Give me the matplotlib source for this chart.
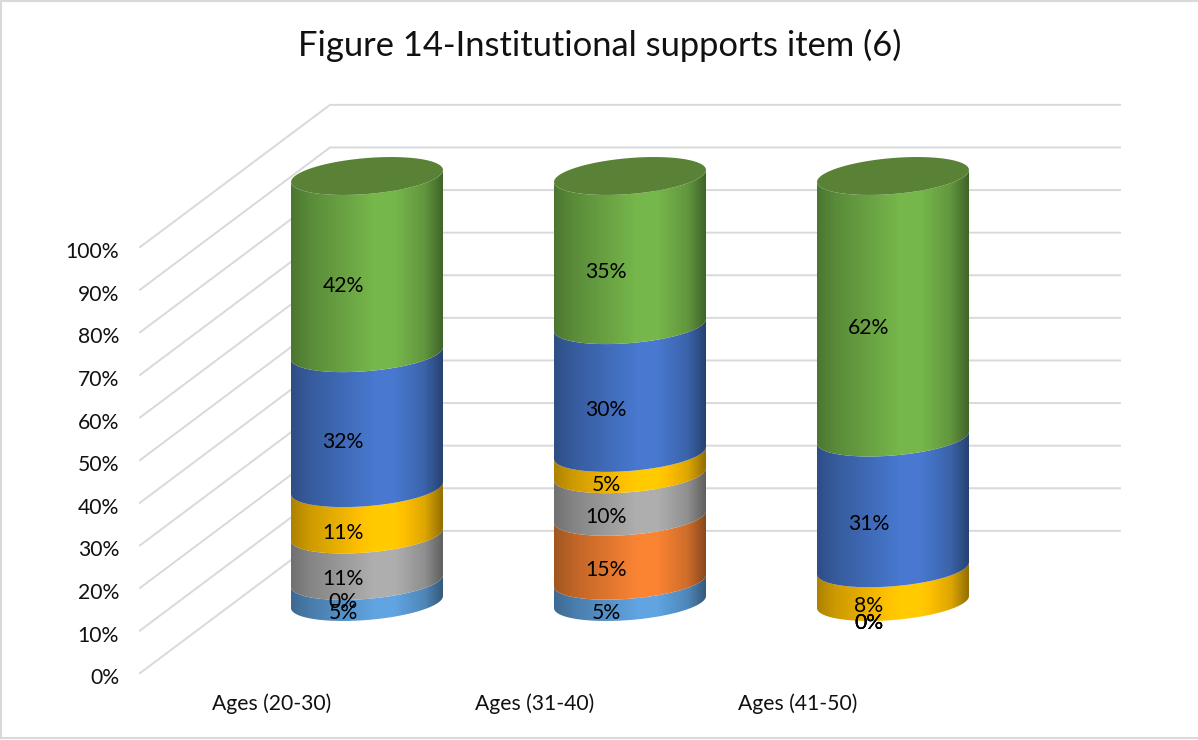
import numpy as np
import matplotlib
matplotlib.use('Agg')
import matplotlib.pyplot as plt
from matplotlib.patches import Polygon
from matplotlib.lines import Line2D
from matplotlib.colors import to_rgb

plt.rcParams['font.family'] = ['Lato', 'DejaVu Sans']

# Chart data (percent labels as printed on the chart)
categories = ['Ages (20-30)', 'Ages (31-40)', 'Ages (41-50)']
light_blue = [5, 5, 0]
orange = [0, 15, 0]
gray = [11, 10, 0]
yellow = [11, 5, 8]
blue = [32, 30, 31]
green = [42, 35, 62]
series = [light_blue, orange, gray, yellow, blue, green]
colors = ['#5B9BD5', '#ED7D31', '#A5A5A5', '#FFC000', '#4472C4', '#70AD47']
y_ticks = np.arange(0, 101, 10)
title = 'Figure 14-Institutional supports item (6)'

# Figure is laid out in pixels, axes use category / percent units
W, H = 1198, 740
x0_px, x_step = 367, 263
y0_px, y_step = 602, 4.26

# Cylinder look
half_w = 76 / x_step
half_h = 18 / y_step
tilt = 6 / y_step
wall_dy = 16.7
wall_left = (140 - x0_px) / x_step
wall_back = (330 - x0_px) / x_step
wall_right = (1120 - x0_px) / x_step

fig = plt.figure(figsize=(W / 100, H / 100), dpi=100)
ax = fig.add_axes([0, 0, 1, 1])
ax.axis('off')
xlim = (-x0_px / x_step, (W - x0_px) / x_step)
ylim = ((y0_px - H) / y_step, y0_px / y_step)

# Chart frame, right side falls outside the picture
frame_x = [1 / W, 1 / W, 1, 1]
frame_y = [1 - 0.7 / H, 2 / H, 2 / H, 1 - 0.7 / H]
fig.add_artist(Line2D([frame_x[1], frame_x[0], frame_x[2]], [frame_y[1], frame_y[0], frame_y[3]],
                      transform=fig.transFigure, c='#d9d9d9', lw=1.5))
fig.add_artist(Line2D([frame_x[1], frame_x[2]], [frame_y[1], frame_y[2]],
                      transform=fig.transFigure, c='#d9d9d9', lw=1.5))

# Walls
for t in y_ticks:
    ax.plot([wall_left, wall_back, wall_right], [t - wall_dy, t + wall_dy, t + wall_dy],
            c='#d9d9d9', lw=1.4, zorder=1)
    ax.text(119 / x_step + xlim[0], t - wall_dy - 1.2, f'{t}%', ha='right', va='center',
            fontsize=15.2, color='#111111')


def arc(cx, level, t0, t1):
    t = np.linspace(t0, t1, 80)
    return np.c_[cx + half_w * np.cos(t), level + half_h * np.sin(t) + tilt * np.cos(t)]


def shade(color):
    stops = [0, 0.12, 0.55, 0.68, 0.88, 1]
    amount = [0.68, 0.8, 1.06, 1.06, 0.87, 0.58]
    f = np.interp(np.linspace(0, 1, 200), stops, amount)
    return np.clip(f[None, :, None] * np.array(to_rgb(color))[None, None, :], 0, 1)


for i, name in enumerate(categories):
    vals = np.array([s[i] for s in series], dtype=float)
    tops = np.cumsum(vals) / vals.sum() * 100
    bottoms = np.r_[0, tops[:-1]]
    for j in range(len(series)):
        if vals[j] > 0:
            # front face of this band, lower arc going right then upper arc coming back
            low = arc(i, bottoms[j], -np.pi, 0)
            high = arc(i, tops[j], 0, -np.pi)
            poly = Polygon(np.r_[low, high], closed=True, transform=ax.transData, fc='none', ec='none')
            ax.add_patch(poly)
            im = ax.imshow(shade(colors[j]), aspect='auto', zorder=3 + j * 0.01,
                           extent=[i - half_w, i + half_w, bottoms[j] - 10, tops[j] + 10],
                           interpolation='bilinear')
            im.set_clip_path(poly)
        ax.text(i - 24 / x_step, (bottoms[j] + tops[j]) / 2 - 5.0, f'{int(vals[j])}%', ha='center',
                va='center', fontsize=15.2, color='black', zorder=6)
    # top cap
    cap = arc(i, 100, 0, 2 * np.pi)
    ax.add_patch(Polygon(cap, closed=True, fc='#5A8236', ec='none', zorder=4))
    ax.text(i - 95 / x_step, (y0_px - 704) / y_step, name, ha='center', va='center',
            fontsize=15.2, color='#111111')

ax.set_xlim(xlim)
ax.set_ylim(ylim)
ax.text((600 - x0_px) / x_step, (y0_px - 45) / y_step, title, ha='center', va='center',
        fontsize=24.8, color='#111111')

plt.savefig('out.png', dpi=100)
